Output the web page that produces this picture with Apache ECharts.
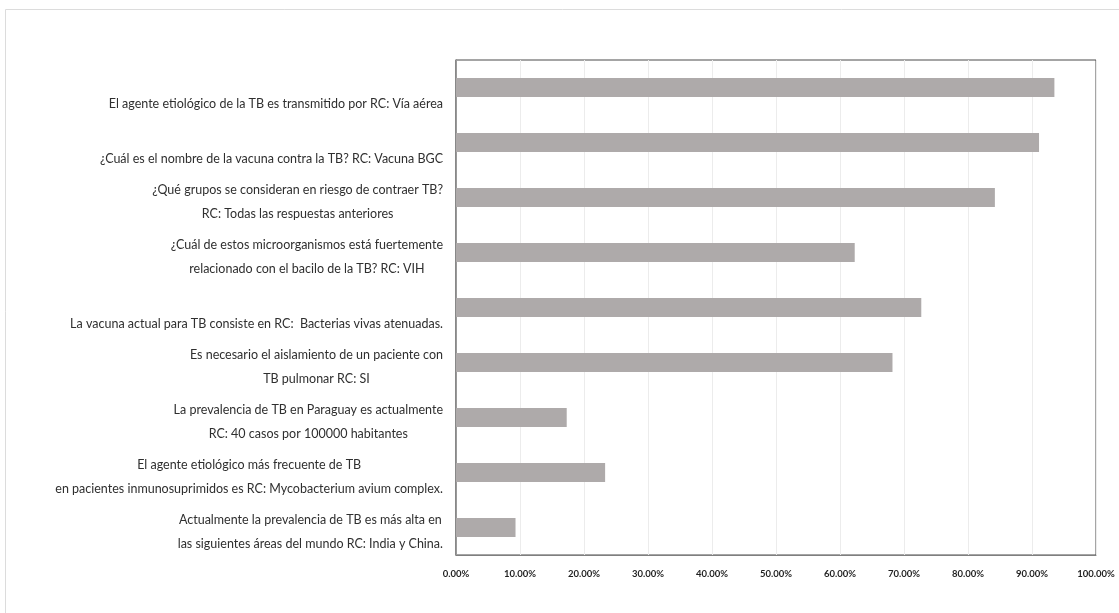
<!DOCTYPE html>
<html>
<head>
<meta charset="utf-8">
<script src="https://cdn.jsdelivr.net/npm/echarts@6/dist/echarts.min.js"></script>
<style>
  html, body { margin: 0; padding: 0; background: #ffffff; }
  #chart { width: 1119px; height: 613px; }
</style>
</head>
<body>
<div id="chart"></div>
<script>
// Categories (top to bottom)
var categories = [
  "El agente etiológico de la TB es transmitido por RC: Vía aérea",
  "¿Cuál es el nombre de la vacuna contra la TB? RC: Vacuna BGC",
  "¿Qué grupos se consideran en riesgo de contraer TB?\nRC: Todas las respuestas anteriores",
  "¿Cuál de estos microorganismos está fuertemente\nrelacionado con el bacilo de la TB? RC: VIH",
  "La vacuna actual para TB consiste en RC:  Bacterias vivas atenuadas.",
  "Es necesario el aislamiento de un paciente con\nTB pulmonar RC: SI",
  "La prevalencia de TB en Paraguay es actualmente\nRC: 40 casos por 100000 habitantes",
  "El agente etiológico más frecuente de TB\nen pacientes inmunosuprimidos es RC: Mycobacterium avium complex.",
  "Actualmente la prevalencia de TB es más alta en\nlas siguientes áreas del mundo RC: India y China."
];
// Percent correct answers
var values = [93.5, 91.1, 84.2, 62.3, 72.7, 68.2, 17.3, 23.3, 9.3];
// X axis ticks
var xMin = 0, xMax = 100, xStep = 10;

var chart = echarts.init(document.getElementById('chart'), null, { renderer: 'canvas' });
var labelFont = 'Lato, "Open Sans", sans-serif';

chart.setOption({
  backgroundColor: '#ffffff',
  animation: false,
  graphic: [{
    type: 'rect',
    shape: { x: 5.5, y: 9.5, width: 1130, height: 620 },
    style: { fill: 'none', stroke: '#dcdcdc', lineWidth: 1 },
    silent: true, z: -10
  }],
  grid: {
    left: 456, right: 23, top: 60, bottom: 58,
    containLabel: false, outerBoundsMode: 'none',
    show: true, borderColor: '#4a4a4a', borderWidth: 1, backgroundColor: 'transparent'
  },
  xAxis: {
    type: 'value', min: xMin, max: xMax, interval: xStep,
    axisLine: { show: true, lineStyle: { color: '#7f7f7f', width: 1 } },
    axisTick: { show: false },
    splitLine: { show: true, lineStyle: { color: '#ececec', width: 1 } },
    axisLabel: {
      margin: 14,
      fontFamily: labelFont, fontSize: 9.5, fontWeight: 'bold', color: '#1f1f1f',
      formatter: function (v) { return v.toFixed(2) + '%'; }
    }
  },
  yAxis: {
    type: 'category', data: categories, inverse: true,
    axisLine: { show: true, lineStyle: { color: '#7f7f7f', width: 1.5 } },
    axisTick: { show: false },
    splitLine: { show: false },
    axisLabel: {
      margin: 13,
      padding: [8, 0, 0, 0],
      fontFamily: labelFont, fontSize: 12.5, color: '#2f2f2f',
      formatter: function (v) {
        var lines = v.split('\n');
        if (lines.length === 1) lines = [' ', lines[0]];
        return lines.map(function (l) { return '{c|' + l + '}'; }).join('\n');
      },
      rich: {
        c: { align: 'center', lineHeight: 24, fontFamily: labelFont, fontSize: 12.5, color: '#2f2f2f' }
      }
    }
  },
  series: [{
    type: 'bar',
    data: values,
    barWidth: 19,
    itemStyle: { color: '#aeaaaa' },
    silent: true
  }]
});
</script>
</body>
</html>
